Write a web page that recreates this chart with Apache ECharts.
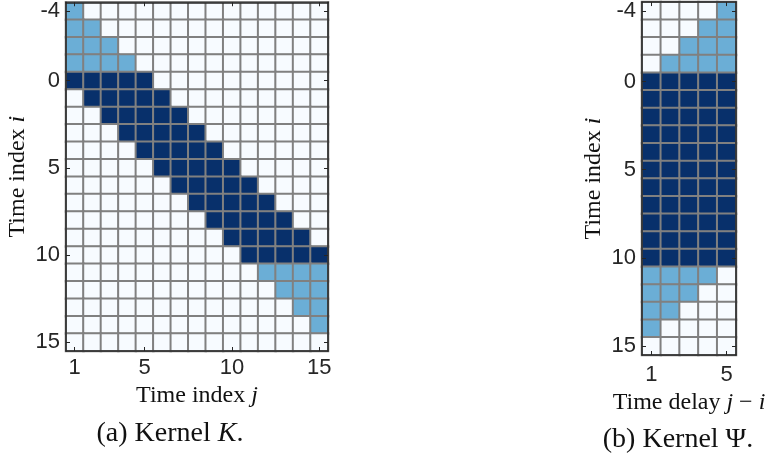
<!DOCTYPE html>
<html><head><meta charset="utf-8">
<script src="https://cdn.jsdelivr.net/npm/echarts@6/dist/echarts.min.js"></script>
<style>html,body{margin:0;padding:0;background:#fff}#c{width:774px;height:461px}</style>
</head><body><div id="c"></div>
<script>
// Row labels: time index i (top to bottom)
const timeIndexI = ['-4','-3','-2','-1','0','1','2','3','4','5','6','7','8','9','10','11','12','13','14','15'];
// Column labels: time index j (kernel K) and time delay j - i (kernel Psi)
const timeIndexJ = ['1','2','3','4','5','6','7','8','9','10','11','12','13','14','15'];
const timeDelay = ['1','2','3','4','5'];
// Tick labels shown
const yTickLabels = ['-4','0','5','10','15'];
const xTickLabelsK = ['1','5','10','15'];
const xTickLabelsPsi = ['1','5'];
// Cell classes: 0 = empty, 1 = light (outside window), 2 = dark (inside window)
const kernelK = [
  [1,0,0,0,0,0,0,0,0,0,0,0,0,0,0],
  [1,1,0,0,0,0,0,0,0,0,0,0,0,0,0],
  [1,1,1,0,0,0,0,0,0,0,0,0,0,0,0],
  [1,1,1,1,0,0,0,0,0,0,0,0,0,0,0],
  [2,2,2,2,2,0,0,0,0,0,0,0,0,0,0],
  [0,2,2,2,2,2,0,0,0,0,0,0,0,0,0],
  [0,0,2,2,2,2,2,0,0,0,0,0,0,0,0],
  [0,0,0,2,2,2,2,2,0,0,0,0,0,0,0],
  [0,0,0,0,2,2,2,2,2,0,0,0,0,0,0],
  [0,0,0,0,0,2,2,2,2,2,0,0,0,0,0],
  [0,0,0,0,0,0,2,2,2,2,2,0,0,0,0],
  [0,0,0,0,0,0,0,2,2,2,2,2,0,0,0],
  [0,0,0,0,0,0,0,0,2,2,2,2,2,0,0],
  [0,0,0,0,0,0,0,0,0,2,2,2,2,2,0],
  [0,0,0,0,0,0,0,0,0,0,2,2,2,2,2],
  [0,0,0,0,0,0,0,0,0,0,0,1,1,1,1],
  [0,0,0,0,0,0,0,0,0,0,0,0,1,1,1],
  [0,0,0,0,0,0,0,0,0,0,0,0,0,1,1],
  [0,0,0,0,0,0,0,0,0,0,0,0,0,0,1],
  [0,0,0,0,0,0,0,0,0,0,0,0,0,0,0]
];
const kernelPsi = [
  [0,0,0,0,1],
  [0,0,0,1,1],
  [0,0,1,1,1],
  [0,1,1,1,1],
  [2,2,2,2,2],
  [2,2,2,2,2],
  [2,2,2,2,2],
  [2,2,2,2,2],
  [2,2,2,2,2],
  [2,2,2,2,2],
  [2,2,2,2,2],
  [2,2,2,2,2],
  [2,2,2,2,2],
  [2,2,2,2,2],
  [2,2,2,2,2],
  [1,1,1,1,0],
  [1,1,1,0,0],
  [1,1,0,0,0],
  [1,0,0,0,0],
  [0,0,0,0,0]
];

function toCells(m) {
  const out = [];
  m.forEach((row, r) => row.forEach((v, c) => out.push([c, r, v])));
  return out;
}

const serif = 'Liberation Serif';
const sans = 'Liberation Sans';
const ink = '#262626';
const nameSize = 24;
const tickSize = 22;
const richName = {
  n: {fontFamily: serif, fontSize: nameSize, color: '#111'},
  v: {fontFamily: serif, fontSize: nameSize, color: '#111', fontStyle: 'italic'}
};

function showIn(list) { return (idx, val) => list.indexOf(val) >= 0; }

function makeAxes(gridIndex, cats, xTicks, xNameText, labelMargin, xNameGap) {
  const tickStyle = {show: true, inside: true, length: 4, alignWithLabel: true, lineStyle: {color: ink, width: 1}};
  const lineStyle = {show: true, lineStyle: {color: ink, width: 1.5}};
  const xs = [
    {type: 'category', gridIndex, data: cats, position: 'bottom', z: 5,
     axisLine: lineStyle, axisTick: Object.assign({interval: showIn(xTicks)}, tickStyle),
     axisLabel: {interval: showIn(xTicks), margin: labelMargin, fontFamily: sans, fontSize: tickSize, color: ink},
     splitLine: {show: false},
     name: xNameText, nameLocation: 'middle', nameGap: xNameGap, nameTextStyle: {rich: richName}},
    {type: 'category', gridIndex, data: cats, position: 'top', z: 5,
     axisLine: lineStyle, axisTick: Object.assign({interval: showIn(xTicks)}, tickStyle),
     axisLabel: {show: false}, splitLine: {show: false}}
  ];
  const ys = [
    {type: 'category', gridIndex, data: timeIndexI, inverse: true, position: 'left', z: 5,
     axisLine: lineStyle, axisTick: Object.assign({interval: showIn(yTickLabels)}, tickStyle),
     axisLabel: {interval: showIn(yTickLabels), margin: 6, fontFamily: sans, fontSize: tickSize, color: ink},
     splitLine: {show: false},
     name: '{n|Time index }{v|i}', nameLocation: 'middle', nameGap: 36, nameTextStyle: {rich: richName}},
    {type: 'category', gridIndex, data: timeIndexI, inverse: true, position: 'right', z: 5,
     axisLine: lineStyle, axisTick: Object.assign({interval: showIn(yTickLabels)}, tickStyle),
     axisLabel: {show: false}, splitLine: {show: false}}
  ];
  return {xs, ys};
}

const a = makeAxes(0, timeIndexJ, xTickLabelsK, '{n|Time index }{v|j}', 6, 31);
const b = makeAxes(1, timeDelay, xTickLabelsPsi, '{n|Time delay }{v|j}{n| \u2212 }{v|i}', 9, 35);

const cellStyle = {borderColor: '#808080', borderWidth: 2};

const option = {
  animation: false,
  backgroundColor: '#ffffff',
  grid: [
    {left: 66, top: 1, width: 262, height: 350},
    {left: 642, top: -3, width: 94, height: 358}
  ],
  xAxis: [a.xs[0], a.xs[1], b.xs[0], b.xs[1]],
  yAxis: [a.ys[0], a.ys[1], b.ys[0], b.ys[1]],
  visualMap: {
    type: 'piecewise', show: false, dimension: 2, seriesIndex: [0, 1],
    pieces: [
      {value: 0, color: '#f7fbff'},
      {value: 1, color: '#6baed6'},
      {value: 2, color: '#08306b'}
    ]
  },
  series: [
    {type: 'heatmap', xAxisIndex: 0, yAxisIndex: 0, data: toCells(kernelK), itemStyle: cellStyle, emphasis: {disabled: true}},
    {type: 'heatmap', xAxisIndex: 2, yAxisIndex: 2, data: toCells(kernelPsi), itemStyle: cellStyle, emphasis: {disabled: true}}
  ],
  graphic: [
    {type: 'text', x: 170, y: 434, style: {text: '(a) Kernel {k|K}.', align: 'center', verticalAlign: 'middle',
      fontFamily: serif, fontSize: 28, fill: '#111',
      rich: {k: {fontFamily: serif, fontSize: 28, fontStyle: 'italic', fill: '#111'}}}},
    {type: 'text', x: 678, y: 440, style: {text: '(b) Kernel \u03A8.', align: 'center', verticalAlign: 'middle',
      fontFamily: serif, fontSize: 28, fill: '#111'}}
  ]
};

const chart = echarts.init(document.getElementById('c'));
chart.setOption(option);
</script>
</body></html>
